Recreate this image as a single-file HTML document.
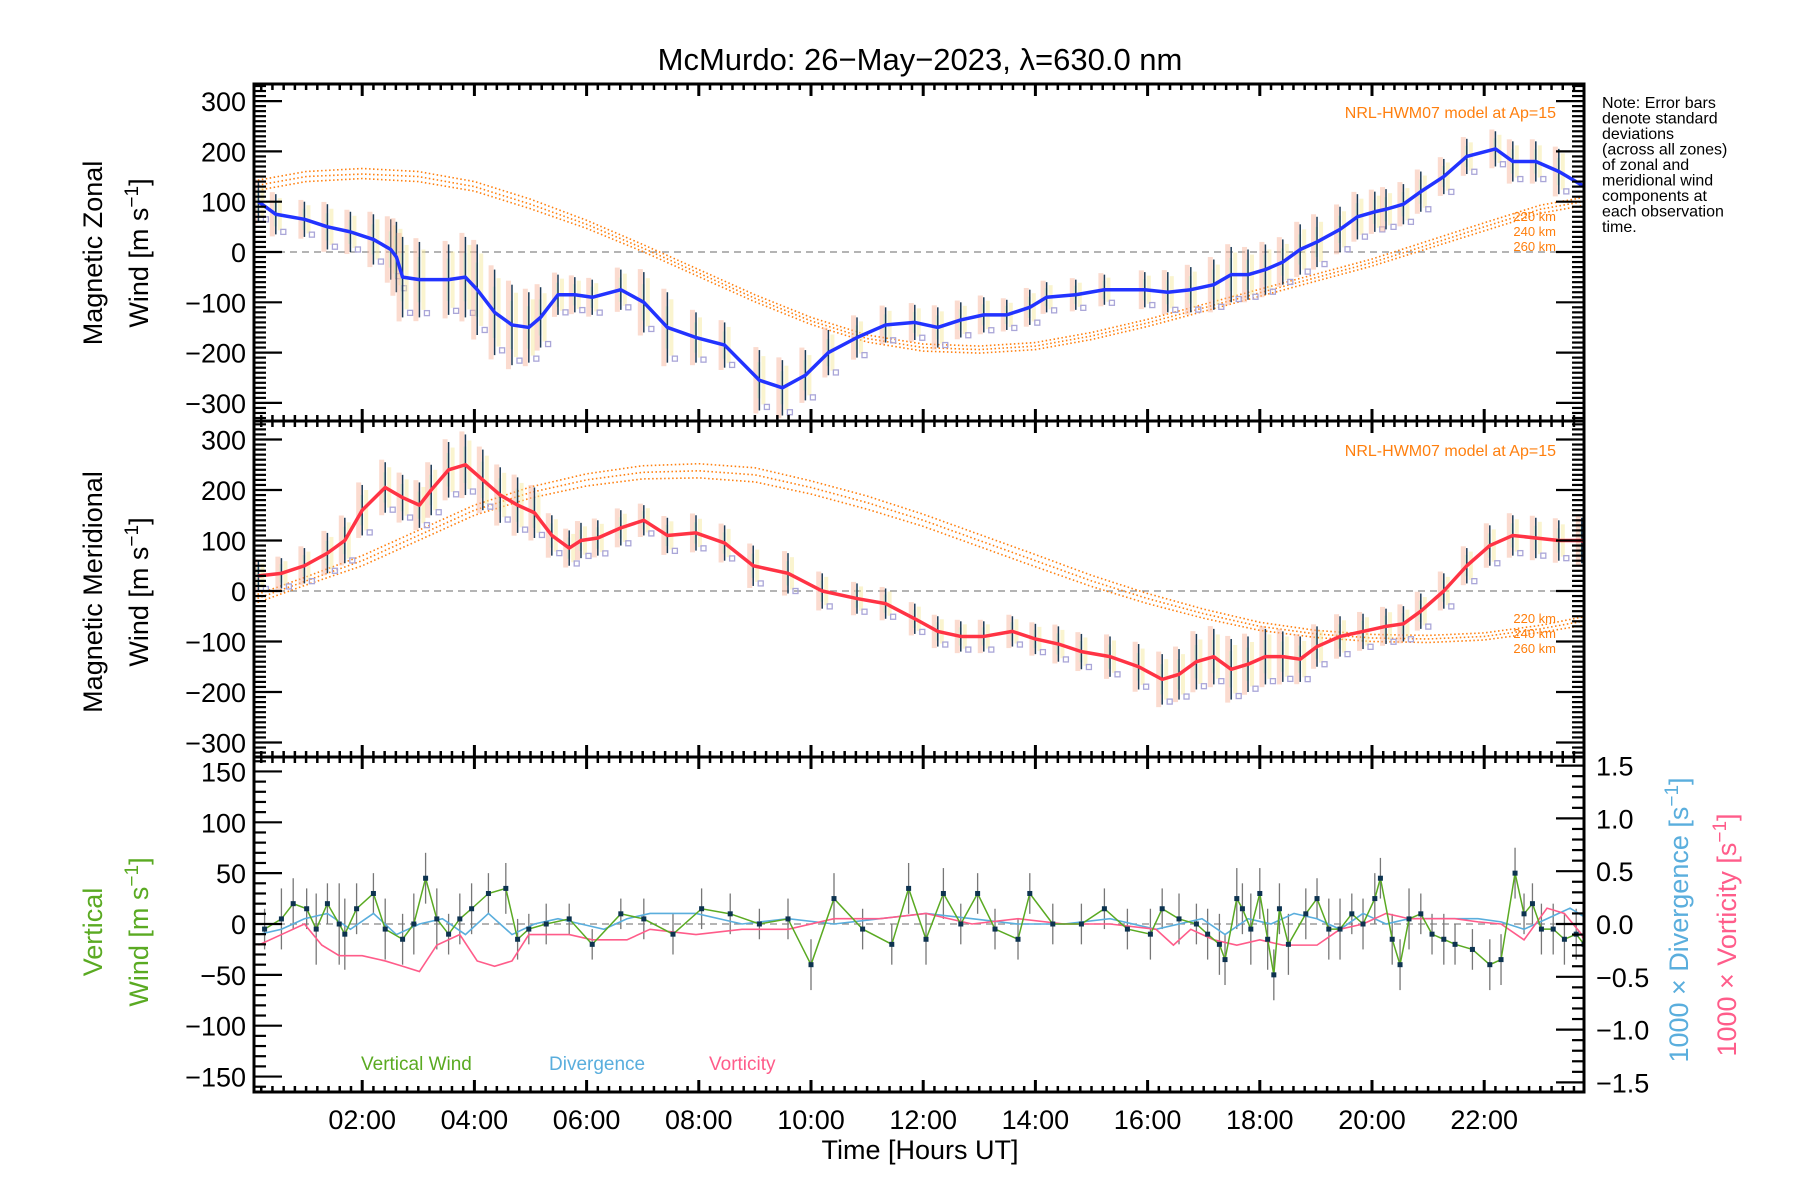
<!DOCTYPE html>
<html><head><meta charset="utf-8">
<style>
html,body{margin:0;padding:0;background:#fff;}
svg{display:block;font-family:"Liberation Sans",sans-serif;}
</style></head>
<body>
<svg id="chart" width="1800" height="1200" viewBox="0 0 1800 1200" xmlns="http://www.w3.org/2000/svg">
<text x="920" y="70" font-size="31" text-anchor="middle">McMurdo: 26−May−2023, λ=630.0 nm</text>
<g font-size="16" fill="#000">
<text x="1602" y="108">Note: Error bars</text>
<text x="1602" y="123.5">denote standard</text>
<text x="1602" y="139">deviations</text>
<text x="1602" y="154.5">(across all zones)</text>
<text x="1602" y="170">of zonal and</text>
<text x="1602" y="185.5">meridional wind</text>
<text x="1602" y="201">components at</text>
<text x="1602" y="216.5">each observation</text>
<text x="1602" y="232">time.</text>
</g>
<g id="layers"></g>
</svg>
<script>
// ---------- data ----------
const tickHours = [2,4,6,8,10,12,14,16,18,20,22];
const tickLabels = ["02:00","04:00","06:00","08:00","10:00","12:00","14:00","16:00","18:00","20:00","22:00"];
const windTicks = [300,200,100,0,-100,-200,-300];
const vertTicks = [150,100,50,0,-50,-100,-150];
const rateTicks = [1.5,1.0,0.5,0.0,-0.5,-1.0,-1.5];

const zonalHours = [0.15,0.46,0.97,1.38,1.79,2.2,2.51,2.61,2.72,3.02,3.54,3.84,4.05,4.36,4.67,4.97,5.18,5.49,5.79,6.1,6.61,7.02,7.44,7.95,8.46,9.08,9.49,9.9,10.31,10.82,11.33,11.85,12.26,12.67,13.08,13.49,13.9,14.2,14.72,15.23,15.95,16.36,16.77,17.18,17.49,17.79,18.1,18.41,18.72,19.02,19.43,19.74,20.05,20.25,20.56,20.87,21.28,21.69,22.2,22.51,22.92,23.33,23.94];
const zonalWind = [100,75,65,50,40,25,5,-10,-50,-55,-55,-50,-75,-120,-145,-150,-130,-85,-85,-90,-75,-100,-150,-170,-185,-255,-270,-245,-200,-170,-145,-140,-150,-135,-125,-125,-110,-90,-85,-75,-75,-80,-75,-65,-45,-45,-35,-20,5,20,45,70,80,85,95,120,150,190,205,180,180,160,120];
const zonalErr = [40,40,35,45,40,50,60,70,80,75,70,80,90,85,80,70,60,40,35,35,40,60,70,50,45,60,55,50,45,40,35,35,40,35,35,30,35,30,30,30,35,40,45,50,55,50,50,45,50,50,45,45,40,40,40,40,35,35,35,40,40,45,60];
const meridHours = [0.15,0.56,0.97,1.38,1.69,2.0,2.41,2.72,3.02,3.23,3.54,3.84,4.15,4.46,4.77,5.07,5.38,5.69,5.9,6.2,6.61,7.02,7.44,7.95,8.46,8.97,9.59,10.2,10.82,11.33,11.85,12.26,12.67,13.08,13.59,14.0,14.41,14.82,15.33,15.84,16.26,16.56,16.87,17.18,17.49,17.79,18.1,18.41,18.72,19.02,19.43,19.84,20.25,20.56,20.87,21.28,21.69,22.1,22.51,22.92,23.33,23.74,23.94];
const meridWind = [30,35,50,75,100,160,205,185,170,200,240,250,220,190,170,155,110,85,100,105,125,140,110,115,95,50,35,0,-15,-25,-55,-80,-90,-90,-80,-95,-105,-120,-130,-150,-175,-165,-140,-130,-155,-145,-130,-130,-135,-110,-90,-80,-70,-65,-40,0,50,90,110,105,100,100,85];
const meridErr = [30,30,35,40,45,50,50,45,45,50,55,60,60,55,55,50,40,35,35,35,35,30,35,35,35,40,40,35,30,30,30,30,30,30,30,30,35,35,40,45,50,50,55,55,60,55,55,50,45,40,40,35,35,35,35,35,35,40,40,40,40,45,45];
const modelHours = [0,1,2,3,4,5,6,7,8,9,10,11,12,13,14,15,16,17,18,19,20,21,22,23,24];
const zonal220 = [140,160,166,160,140,105,63,15,-35,-85,-130,-165,-183,-187,-180,-160,-134,-104,-74,-44,-14,22,58,93,113];
const zonal240 = [130,150,155,150,130,95,55,8,-42,-92,-137,-172,-190,-194,-187,-167,-141,-111,-81,-51,-21,14,50,85,105];
const zonal260 = [120,140,146,140,121,86,47,1,-49,-99,-144,-179,-197,-201,-194,-174,-148,-118,-88,-58,-28,7,42,77,97];
const merid220 = [-12,28,70,120,170,206,232,248,252,244,218,188,152,112,72,31,-5,-36,-62,-78,-86,-88,-83,-68,-46];
const merid240 = [-20,20,60,110,160,195,220,235,238,230,205,175,140,100,60,20,-15,-45,-70,-85,-93,-95,-90,-75,-55];
const merid260 = [-28,12,50,100,150,184,208,222,224,216,192,162,128,88,48,9,-25,-54,-78,-92,-100,-102,-97,-82,-64];

const vertHours = [0.26,0.56,0.77,1.01,1.18,1.38,1.59,1.69,1.9,2.2,2.41,2.72,2.92,3.13,3.33,3.54,3.74,3.95,4.25,4.56,4.77,4.97,5.28,5.69,6.1,6.61,7.02,7.54,8.05,8.56,9.08,9.59,10.0,10.41,10.92,11.44,11.74,12.05,12.36,12.67,12.97,13.28,13.69,13.9,14.31,14.82,15.23,15.64,16.05,16.26,16.56,16.87,17.07,17.28,17.38,17.59,17.69,17.84,18.0,18.14,18.25,18.35,18.51,18.82,19.02,19.23,19.43,19.64,19.84,20.05,20.15,20.36,20.5,20.66,20.87,21.07,21.28,21.48,21.79,22.1,22.3,22.55,22.71,22.86,23.02,23.23,23.43,23.64,23.78,23.9];
const vertWind = [-5,5,20,15,-5,20,0,-10,15,30,-5,-15,0,45,5,-10,5,15,30,35,-15,-5,0,5,-20,10,5,-10,15,10,0,5,-40,25,-5,-20,35,-15,30,0,30,-5,-15,30,0,0,15,-5,-10,15,5,0,-10,-20,-35,25,15,-5,30,-15,-50,15,-20,10,25,-5,-5,10,0,25,45,-15,-40,5,10,-10,-15,-20,-25,-40,-35,50,10,20,-5,-5,-15,-10,-20,20];
const vertErr = [20,30,25,20,35,20,40,35,25,20,30,25,30,25,30,20,25,25,20,25,20,15,20,15,15,15,20,20,20,20,15,20,25,25,20,20,25,25,25,20,20,20,20,20,20,20,20,20,25,20,25,20,25,30,25,30,25,35,25,30,25,25,30,25,20,30,30,20,25,25,20,25,25,30,20,20,25,20,20,25,25,25,20,20,25,25,25,25,20,20];
const divHours = [0.15,0.56,0.97,1.38,1.79,2.2,2.61,3.02,3.43,3.84,4.25,4.67,5.07,5.49,5.9,6.31,6.72,7.13,7.95,8.77,9.59,10.41,11.23,12.05,12.87,13.69,14.51,15.33,16.15,16.97,17.38,17.79,18.2,18.61,19.02,19.43,19.84,20.25,20.66,21.07,21.48,21.89,22.3,22.71,23.12,23.53,23.84];
const divergence = [-0.1,-0.05,0.05,0.1,-0.05,0.1,-0.1,0,0.05,-0.1,0.1,-0.1,0,0.05,0,-0.05,0.05,0.1,0.1,0,0.05,0,0.05,0.1,0.05,0,0,0.05,-0.05,0.05,-0.1,0.05,0,0.1,0.05,-0.05,0.1,0,0.05,0.05,0.05,0.05,0.02,-0.05,0.05,0.15,0.05];
const vortHours = [0.15,0.56,0.97,1.28,1.59,2.0,2.41,2.72,3.02,3.33,3.74,4.05,4.36,4.67,4.97,5.28,5.69,6.1,6.72,7.13,7.95,8.77,9.59,10.41,11.23,12.05,12.87,13.69,14.51,15.33,16.15,16.46,16.77,17.18,17.59,18.0,18.41,19.02,19.43,19.84,20.25,20.66,21.07,21.48,21.89,22.3,22.71,23.12,23.43,23.74,23.94];
const vorticity = [-0.2,-0.1,0,-0.2,-0.3,-0.3,-0.35,-0.4,-0.45,-0.2,-0.1,-0.35,-0.4,-0.35,-0.1,-0.1,-0.1,-0.15,-0.15,-0.05,-0.1,-0.05,-0.05,0.05,0.05,0.1,0,0.05,0,0,-0.05,-0.2,-0.05,-0.15,-0.2,-0.15,-0.2,-0.2,-0.05,0,0.1,0.05,0.05,0.05,0.02,0,-0.15,0.15,0.1,-0.1,-0.4];

// ---------- layout ----------
const L=254, R=1584;
const P1={top:84,bot:421,zero:252,k:0.503};
const P2={top:421,bot:757,zero:591,k:0.505};
const P3={top:757,bot:1092,zero:924,kL:1.017,kR:105.6};
const NS="http://www.w3.org/2000/svg";
const root=document.getElementById('layers');
function xS(h){return 250+h*56.1;}
function mk(tag,attrs,parent){const e=document.createElementNS(NS,tag);for(const k in attrs)e.setAttribute(k,attrs[k]);(parent||root).appendChild(e);return e;}
function txt(s,attrs,parent){const t=mk('text',attrs,parent);t.textContent=s;return t;}

const defs=mk('defs',{});
[P1,P2,P3].forEach((p,i)=>{const c=mk('clipPath',{id:'clip'+i},defs);mk('rect',{x:L,y:p.top,width:R-L,height:p.bot-p.top},c);});

function windPanel(p,idx,hours,vals,errs,lineColor,m1,m2,m3,name){
  const g=mk('g',{'clip-path':'url(#clip'+idx+')'});
  
  
  const yS=v=>p.zero-v*p.k;
  mk('line',{x1:L,x2:R,y1:yS(0),y2:yS(0),stroke:'#888','stroke-dasharray':'7,5','stroke-width':1.3},g);
  [m1,m2,m3].forEach((m,j)=>{
    const pl=mk('polyline',{points:modelHours.map((h,i)=>xS(h)+','+yS(m[i])).join(' '),fill:'none',stroke:'#ff7f0e','stroke-width':1.6,'stroke-dasharray':'1.5,2.5'},g);
    
    
  });
  hours.forEach((h,i)=>{
    const x=xS(h), v=vals[i], e=errs[i];
    const r=mk('rect',{x:x-6,y:yS(v+e*1.1),width:5,height:e*2.2*p.k,fill:'#f7b8a0',opacity:0.5},g);
    
    
    mk('rect',{x:x+2,y:yS(v+e*0.8),width:4,height:e*1.6*p.k,fill:'#f6eaa0',opacity:0.5},g);
    mk('rect',{x:x-2,y:yS(v+e*0.6),width:3,height:e*1.2*p.k,fill:'#bfeec8',opacity:0.5},g);
    const b=mk('line',{x1:x,x2:x,y1:yS(v+e),y2:yS(v-e),stroke:'#1c3a56','stroke-width':1.5},g);
    
    
    mk('rect',{x:x+5,y:yS(v-e*0.9)-3,width:5,height:5,fill:'none',stroke:'#aaa6d8','stroke-width':1.3},g);
  });
  const ln=mk('polyline',{points:hours.map((h,i)=>xS(h)+','+yS(vals[i])).join(' '),fill:'none',stroke:lineColor,'stroke-width':3.5,'stroke-linejoin':'round'},g);
  
  
  return yS;
}
windPanel(P1,0,zonalHours,zonalWind,zonalErr,'#2233ff',zonal220,zonal240,zonal260,'zonal');
windPanel(P2,1,meridHours,meridWind,meridErr,'#ff3344',merid220,merid240,merid260,'meridional');

(function(){
  const g=mk('g',{'clip-path':'url(#clip2)'});
  
  
  const yL=v=>P3.zero-v*P3.kL, yR=v=>P3.zero-v*P3.kR;
  mk('line',{x1:L,x2:R,y1:P3.zero,y2:P3.zero,stroke:'#888','stroke-dasharray':'7,5','stroke-width':1.3},g);
  vertHours.forEach((h,i)=>{
    const x=xS(h);
    const b=mk('line',{x1:x,x2:x,y1:yL(vertWind[i]+vertErr[i]),y2:yL(vertWind[i]-vertErr[i]),stroke:'#777','stroke-width':1.3},g);
    
    
  });
  const d=mk('polyline',{points:divHours.map((h,i)=>xS(h)+','+yR(divergence[i])).join(' '),fill:'none',stroke:'#5aaedd','stroke-width':1.6},g);
  
  
  const v=mk('polyline',{points:vortHours.map((h,i)=>xS(h)+','+yR(vorticity[i])).join(' '),fill:'none',stroke:'#ff5c8a','stroke-width':1.6},g);
  
  
  const w=mk('polyline',{points:vertHours.map((h,i)=>xS(h)+','+yL(vertWind[i])).join(' '),fill:'none',stroke:'#5aaa22','stroke-width':1.5},g);
  
  
  vertHours.forEach((h,i)=>{
    const p=mk('rect',{x:xS(h)-2.5,y:yL(vertWind[i])-2.5,width:5,height:5,fill:'#0d3350'},g);
    
    
  });
})();

const ax=mk('g',{});


function frame(p,name){
  const r=mk('rect',{x:L,y:p.top,width:R-L,height:p.bot-p.top,fill:'none',stroke:'#000','stroke-width':3},ax);
  
  
  for(let m=12;m<=24*60;m+=12){
    const h=m/60, x=xS(h); if(x<=L+1||x>=R-1) continue;
    const major=(m%120===0);
    const len=major?12:6;
    mk('line',{x1:x,x2:x,y1:p.top,y2:p.top+len,stroke:'#000','stroke-width':major?3:2.5},ax);
    mk('line',{x1:x,x2:x,y1:p.bot,y2:p.bot-len,stroke:'#000','stroke-width':major?3:2.5},ax);
  }
}
frame(P1,'zonal-panel');frame(P2,'meridional-panel');frame(P3,'vertical-panel');

function yTicks(p,k,zero,step,minor,ticks,side,fmt,fs,name){
  for(let v=-1000;v<=1000;v+=1){
    const val=v*minor, y=zero-val*k;
    if(y<p.top+1||y>p.bot-1) continue;
    const isMajor=Math.abs(Math.round(val/step)*step-val)<1e-9;
    const len=isMajor?28:12;
    if(side!=='right') mk('line',{x1:L,x2:L+len,y1:y,y2:y,stroke:'#000','stroke-width':2.2},ax);
    if(side!=='left') mk('line',{x1:R,x2:R-len,y1:y,y2:y,stroke:'#000','stroke-width':2.2},ax);
  }
  ticks.forEach(t=>{
    const y=zero-t*k;
    const s=fmt(t);
    const tt=(side==='right')?txt(s,{x:R+12,y:y+10,'font-size':fs},ax):txt(s,{x:L-8,y:y+10,'font-size':fs,'text-anchor':'end'},ax);
    
    
  });
}
const fw=t=>(t<0?'−':'')+Math.abs(t);
yTicks(P1,P1.k,P1.zero,100,10,windTicks,'both',fw,27,'zonal-y');
yTicks(P2,P2.k,P2.zero,100,10,windTicks,'both',fw,27,'meridional-y');
yTicks(P3,P3.kL,P3.zero,50,10,vertTicks,'left',fw,27,'vertical-y');
yTicks(P3,P3.kR,P3.zero,0.5,0.1,rateTicks,'right',t=>(t<0?'−':'')+Math.abs(t).toFixed(1),27,'rate-y');

tickHours.forEach((h,i)=>{
  const t=txt(tickLabels[i],{x:xS(h),y:1129,'font-size':27,'text-anchor':'middle'},ax);
  
  
});
const xt=txt('Time [Hours UT]',{x:920,y:1159,'font-size':27,'text-anchor':'middle'},ax);



function vlabel(lines,cx,cy,color,name){
  lines.forEach((l,i)=>{
    const t=txt('',{transform:`translate(${l.x},${cy}) rotate(-90)`,'font-size':27,'text-anchor':'middle',fill:l.c||color},ax);
    t.innerHTML=l.s;
    
    
  });
}
vlabel([{x:102,s:'Magnetic Zonal'},{x:148,s:'Wind [m s<tspan dy="-10" font-size="19">−1</tspan><tspan dy="10">]</tspan>'}],0,253,'#000','zonal-y-axis-title');
vlabel([{x:102,s:'Magnetic Meridional'},{x:148,s:'Wind [m s<tspan dy="-10" font-size="19">−1</tspan><tspan dy="10">]</tspan>'}],0,592,'#000','meridional-y-axis-title');
vlabel([{x:102,s:'Vertical'},{x:148,s:'Wind [m s<tspan dy="-10" font-size="19">−1</tspan><tspan dy="10">]</tspan>'}],0,932,'#5aaa22','vertical-y-axis-title');
vlabel([{x:1688,s:'1000 × Divergence [s<tspan dy="-10" font-size="19">−1</tspan><tspan dy="10">]</tspan>'}],0,920,'#5aaedd','divergence-axis-title');
vlabel([{x:1736,s:'1000 × Vorticity [s<tspan dy="-10" font-size="19">−1</tspan><tspan dy="10">]</tspan>'}],0,935,'#ff5c8a','vorticity-axis-title');

[[113,'zonal'],[451,'meridional']].forEach(([y,n])=>{
  const t=txt('NRL-HWM07 model at Ap=15',{x:1556,y:y+5,'font-size':16,'text-anchor':'end',fill:'#ff7f0e'},ax);
  
  
});
[[217,'zonal'],[619,'meridional']].forEach(([y0,n])=>{
  ['220 km','240 km','260 km'].forEach((s,i)=>{
    const t=txt(s,{x:1556,y:y0+i*15+4,'font-size':13,'text-anchor':'end',fill:'#ff7f0e'},ax);
    
    
  });
});
[['Vertical Wind',361,'#5aaa22'],['Divergence',549,'#5aaedd'],['Vorticity',709,'#ff5c8a']].forEach(([s,x,c])=>{
  const t=txt(s,{x:x,y:1070,'font-size':19,fill:c},ax);
  
  
});
</script>
</body></html>
